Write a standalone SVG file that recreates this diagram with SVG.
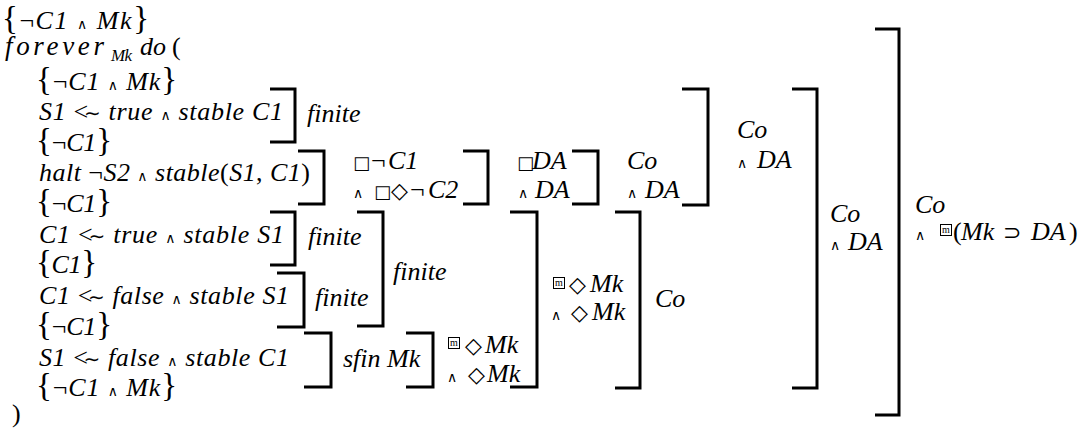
<svg xmlns="http://www.w3.org/2000/svg" width="1085" height="430" viewBox="0 0 1085 430">
<style>
.t{font-family:"Liberation Serif",serif;font-size:26px;font-style:italic;fill:#000}
.u{font-style:normal}
.big{font-style:normal;font-size:33px}
.w{font-family:"DejaVu Sans",sans-serif;font-style:normal;font-size:14px}
.s{font-family:"DejaVu Sans",sans-serif;font-style:normal;font-size:18px}
.d{font-family:"DejaVu Sans",sans-serif;font-style:normal;font-size:22px}
.tl{font-family:"DejaVu Sans",sans-serif;font-style:normal;font-size:20px}
.sub{font-size:17px}
.br{fill:none;stroke:#000;stroke-width:3}
.mb{fill:#fff;stroke:#000;stroke-width:1}
.m{font-family:"Liberation Serif",serif;font-size:10px;font-style:normal;text-anchor:middle;fill:#000}
</style>
<defs>
<g id="boxm"><rect class="mb" x="0.5" y="-11.5" width="11" height="11"/><text class="m" x="6" y="-3">m</text></g>
</defs>
<g id="program">
<g id="line1"><text class="t" x="2" y="29" textLength="147" lengthAdjust="spacing"><tspan class="big">{</tspan><tspan class="u">¬</tspan>C1 <tspan class="w">∧</tspan> Mk<tspan class="big">}</tspan></text></g>
<g id="line2"><text class="t" x="5" y="55" style="font-size:27px" textLength="99" lengthAdjust="spacing">forever</text><text class="t sub" x="111" y="61" textLength="21" lengthAdjust="spacing">Mk</text><text class="t" x="140" y="55">do</text><text class="t u" x="172" y="55">(</text></g>
<g id="line3"><text class="t" x="36" y="90" textLength="141" lengthAdjust="spacing"><tspan class="big">{</tspan><tspan class="u">¬</tspan>C1 <tspan class="w">∧</tspan> Mk<tspan class="big">}</tspan></text></g>
<g id="line4"><text class="t" x="39" y="120" textLength="244" lengthAdjust="spacing">S1 <tspan class="u">&lt;</tspan><tspan class="tl" dx="-5">∼</tspan> true <tspan class="w">∧</tspan> stable C1</text></g>
<g id="line5"><text class="t" x="36" y="151" textLength="76" lengthAdjust="spacing"><tspan class="big">{</tspan><tspan class="u">¬</tspan>C1<tspan class="big">}</tspan></text></g>
<g id="line6"><text class="t" x="39" y="181" textLength="271" lengthAdjust="spacing">halt <tspan class="u">¬</tspan>S2 <tspan class="w">∧</tspan> stable<tspan class="u">(</tspan>S1<tspan class="u">,</tspan> C1<tspan class="u">)</tspan></text></g>
<g id="line7"><text class="t" x="36" y="212" textLength="76" lengthAdjust="spacing"><tspan class="big">{</tspan><tspan class="u">¬</tspan>C1<tspan class="big">}</tspan></text></g>
<g id="line8"><text class="t" x="39" y="243" textLength="245" lengthAdjust="spacing">C1 <tspan class="u">&lt;</tspan><tspan class="tl" dx="-5">∼</tspan> true <tspan class="w">∧</tspan> stable S1</text></g>
<g id="line9"><text class="t" x="36" y="273" textLength="61" lengthAdjust="spacing"><tspan class="big">{</tspan>C1<tspan class="big">}</tspan></text></g>
<g id="line10"><text class="t" x="39" y="304" textLength="250" lengthAdjust="spacing">C1 <tspan class="u">&lt;</tspan><tspan class="tl" dx="-5">∼</tspan> false <tspan class="w">∧</tspan> stable S1</text></g>
<g id="line11"><text class="t" x="36" y="335" textLength="76" lengthAdjust="spacing"><tspan class="big">{</tspan><tspan class="u">¬</tspan>C1<tspan class="big">}</tspan></text></g>
<g id="line12"><text class="t" x="39" y="366" textLength="250" lengthAdjust="spacing">S1 <tspan class="u">&lt;</tspan><tspan class="tl" dx="-5">∼</tspan> false <tspan class="w">∧</tspan> stable C1</text></g>
<g id="line13"><text class="t" x="36" y="396" textLength="141" lengthAdjust="spacing"><tspan class="big">{</tspan><tspan class="u">¬</tspan>C1 <tspan class="w">∧</tspan> Mk<tspan class="big">}</tspan></text></g>
<g id="line14"><text class="t u" x="12" y="422">)</text></g>
</g>
<g id="connectors">
<path class="br" d="M270 89H295V142H270"/>
<path class="br" d="M298 151H324V204H298"/>
<path class="br" d="M463 151H488V204H463"/>
<path class="br" d="M572 151H598V204H572"/>
<path class="br" d="M682 89H708V205H682"/>
<path class="br" d="M792 89H817V388H792"/>
<path class="br" d="M875 29H899V415H875"/>
<path class="br" d="M270 212H295V265H270"/>
<path class="br" d="M277 273H304V327H277"/>
<path class="br" d="M357 212H383V326H357"/>
<path class="br" d="M304 333H331V387H304"/>
<path class="br" d="M406 333H433V387H406"/>
<path class="br" d="M510 212H537V387H510"/>
<path class="br" d="M615 212H640V388H615"/>
</g>
<g id="label-finite1"><text class="t" x="307" y="122">finite</text></g>
<g id="label-finite2"><text class="t" x="308" y="245">finite</text></g>
<g id="label-finite3"><text class="t" x="315" y="306">finite</text></g>
<g id="label-finite4"><text class="t" x="393" y="280">finite</text></g>
<g id="label-sfin"><text class="t" x="343" y="367">sfin Mk</text></g>
<g id="label-halt"><text class="t" y="169"><tspan class="s" x="353">□</tspan><tspan class="u" x="371">¬</tspan><tspan x="388">C1</tspan></text><text class="t" y="198"><tspan class="w" x="353">∧</tspan><tspan class="s" x="374">□</tspan><tspan class="d" x="391">◇</tspan><tspan class="u" x="410">¬</tspan><tspan x="428">C2</tspan></text></g>
<g id="label-boxDA"><text class="t" y="169"><tspan class="s" x="517">□</tspan><tspan x="532">DA</tspan></text><text class="t" y="198"><tspan class="w" x="518">∧</tspan><tspan x="535">DA</tspan></text></g>
<g id="label-co1"><text class="t" x="627" y="169">Co</text><text class="t" y="198"><tspan class="w" x="627">∧</tspan><tspan x="645">DA</tspan></text></g>
<g id="label-co2"><text class="t" x="737" y="138">Co</text><text class="t" y="168"><tspan class="w" x="737">∧</tspan><tspan x="757">DA</tspan></text></g>
<g id="label-co3"><text class="t" x="830" y="222">Co</text><text class="t" y="250"><tspan class="w" x="830">∧</tspan><tspan x="848">DA</tspan></text></g>
<g id="label-final"><text class="t" x="915" y="213">Co</text><text class="t" y="240"><tspan class="w" x="915">∧</tspan><tspan class="u" x="953">(</tspan><tspan x="961">Mk</tspan><tspan class="d" x="1003">⊃</tspan><tspan x="1031">DA</tspan><tspan class="u" x="1069">)</tspan></text><use href="#boxm" x="940" y="236"/></g>
<g id="label-mk1"><use href="#boxm" x="448" y="349"/><text class="t" y="353"><tspan class="d" x="465">◇</tspan><tspan x="485">Mk</tspan></text><text class="t" y="382"><tspan class="w" x="447">∧</tspan><tspan class="d" x="468">◇</tspan><tspan x="487">Mk</tspan></text></g>
<g id="label-mk2"><use href="#boxm" x="553" y="289"/><text class="t" y="292"><tspan class="d" x="569">◇</tspan><tspan x="590">Mk</tspan></text><text class="t" y="320"><tspan class="w" x="551">∧</tspan><tspan class="d" x="571">◇</tspan><tspan x="592">Mk</tspan></text></g>
<g id="label-co4"><text class="t" x="655" y="307">Co</text></g>
</svg>
